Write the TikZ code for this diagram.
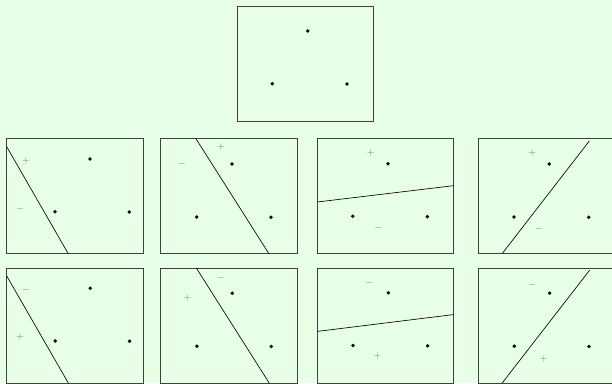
\documentclass[tikz,border=0pt]{standalone}
\definecolor{bgc}{RGB}{230,255,230}
\tikzset{
  frame/.style={draw=black!75, line width=0.9pt},
  pdot/.style={circle, fill=black, inner sep=0pt, minimum size=3.8pt},
  sign/.style={text=black!55, inner sep=0pt, font=\normalsize},
  sepline/.style={draw=black, line width=0.65pt},
}
\begin{document}
\begin{tikzpicture}[x=1pt,y=-1pt]
\fill[bgc] (0,0) rectangle (612,383);
\useasboundingbox (0,0) rectangle (612,383);
% top box
\draw[frame] (237,6) rectangle (373,121);
\node[pdot] (t1) at (307.7,31) {};
\node[pdot] (t2) at (272.3,83.7) {};
\node[pdot] (t3) at (347,84) {};
% ---------- row 1 ----------
% box 1
\draw[frame] (6.7,138.8) rectangle (143.3,253.8);
\node[pdot] (a1) at (90,159) {};
\node[pdot] (a2) at (55,211.7) {};
\node[pdot] (a3) at (129.3,212) {};
\coordinate (la1) at (6.7,146.7); \coordinate (la2) at (68.3,253.8);
\draw[sepline] (la1) -- (la2);
\node[sign] (ap) at (26,160.7) {$+$};
\node[sign] (am) at (20.3,209.3) {$-$};
% box 2
\draw[frame] (160.7,138.8) rectangle (297.3,253.8);
\node[pdot] (b1) at (232,164) {};
\node[pdot] (b2) at (196.7,217) {};
\node[pdot] (b3) at (271,217.3) {};
\coordinate (lb1) at (196,138.8); \coordinate (lb2) at (269,253.8);
\draw[sepline] (lb1) -- (lb2);
\node[sign] (bp) at (221,146.7) {$+$};
\node[sign] (bm) at (182,164) {$-$};
% box 3
\draw[frame] (317.3,138.8) rectangle (453.3,253.8);
\node[pdot] (c1) at (388,163.7) {};
\node[pdot] (c2) at (352.7,216.3) {};
\node[pdot] (c3) at (427.3,216.7) {};
\coordinate (lc1) at (317.3,202); \coordinate (lc2) at (453.3,185.7);
\draw[sepline] (lc1) -- (lc2);
\node[sign] (cp) at (370.7,153.3) {$+$};
\node[sign] (cm) at (378.3,228.3) {$-$};
% box 4
\draw[frame] (478.3,138.8) rectangle (614.5,253.8);
\node[pdot] (d1) at (549.3,164) {};
\node[pdot] (d2) at (514,217) {};
\node[pdot] (d3) at (588.7,217.3) {};
\coordinate (ld1) at (502,253.8); \coordinate (ld2) at (589.3,141);
\draw[sepline] (ld1) -- (ld2);
\node[sign] (dp) at (532.3,153.3) {$+$};
\node[sign] (dm) at (539.3,229) {$-$};
% ---------- row 2 ----------
% box 5
\draw[frame] (6.7,268) rectangle (143.3,383);
\node[pdot] (e1) at (90.3,288.2) {};
\node[pdot] (e2) at (55.2,340.9) {};
\node[pdot] (e3) at (129.6,341.2) {};
\coordinate (le1) at (6.7,275.9); \coordinate (le2) at (68.3,383);
\draw[sepline] (le1) -- (le2);
\node[sign] (em) at (26,289.8) {$-$};
\node[sign] (ep) at (20,337) {$+$};
% box 6
\draw[frame] (160.7,268) rectangle (297.3,383);
\node[pdot] (f1) at (232.3,293.2) {};
\node[pdot] (f2) at (196.9,346.2) {};
\node[pdot] (f3) at (271.3,346.5) {};
\coordinate (lf1) at (196.3,268); \coordinate (lf2) at (269.2,383);
\draw[sepline] (lf1) -- (lf2);
\node[sign] (fm) at (220.7,278.3) {$-$};
\node[sign] (fp) at (187.3,297.7) {$+$};
% box 7
\draw[frame] (317.3,268) rectangle (453.3,383);
\node[pdot] (g1) at (388.3,292.9) {};
\node[pdot] (g2) at (353,345.5) {};
\node[pdot] (g3) at (427.6,345.9) {};
\coordinate (lg1) at (317.3,331.4); \coordinate (lg2) at (453.3,314.6);
\draw[sepline] (lg1) -- (lg2);
\node[sign] (gm) at (369.5,283) {$-$};
\node[sign] (gp) at (377.5,355.5) {$+$};
% box 8
\draw[frame] (478.3,268) rectangle (614.5,383);
\node[pdot] (h1) at (549.6,293.2) {};
\node[pdot] (h2) at (514.3,346.2) {};
\node[pdot] (h3) at (589,346.5) {};
\coordinate (lh1) at (502.2,383); \coordinate (lh2) at (589.6,270.2);
\draw[sepline] (lh1) -- (lh2);
\node[sign] (hm) at (532.3,285) {$-$};
\node[sign] (hp) at (543.3,359.3) {$+$};
\end{tikzpicture}
\end{document}
